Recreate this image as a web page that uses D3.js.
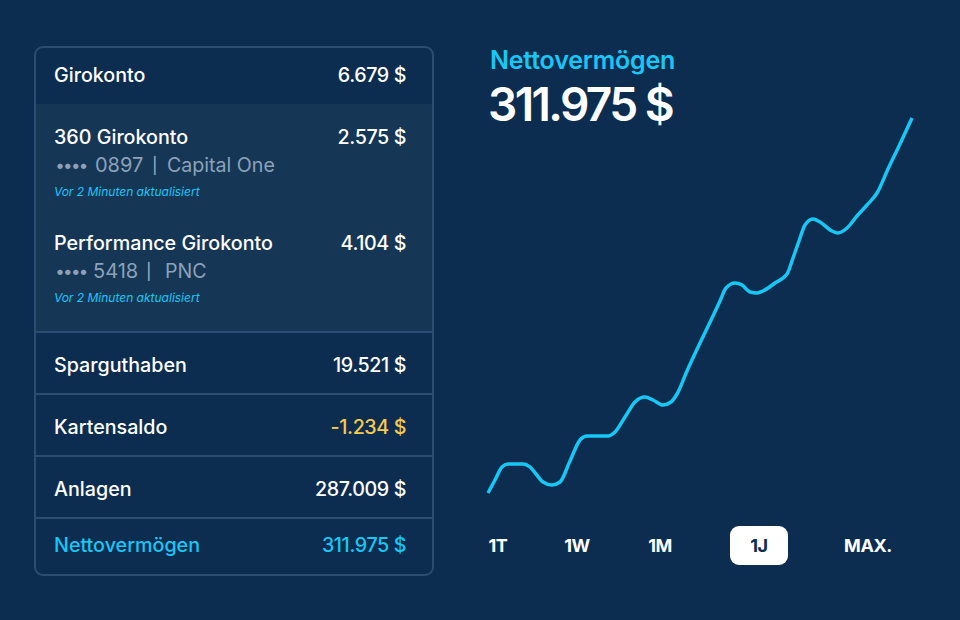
<!DOCTYPE html>
<html>
<head>
<meta charset="utf-8">
<script src="https://cdn.jsdelivr.net/npm/d3@7"></script>
<style>
  html, body { margin: 0; padding: 0; background: #0c2d50; }
  svg { display: block; }
  text { font-family: Inter, "Noto Sans", sans-serif; }
</style>
</head>
<body>
<svg width="960" height="620"></svg>
<script>
// account rows
const rowLabels = ["Girokonto", "Sparguthaben", "Kartensaldo", "Anlagen", "Nettovermögen"];
const rowValues = ["6.679 $", "19.521 $", "-1.234 $", "287.009 $", "311.975 $"];
const subLabels = ["360 Girokonto", "Performance Girokonto"];
const subValues = ["2.575 $", "4.104 $"];
const subNumbers = ["0897", "5418"];
const subBanks = ["Capital One", "PNC"];
const updatedLabel = "Vor 2 Minuten aktualisiert";

// chart (arbitrary units, no axis in the reference)
const lineX = [0, 7, 14, 20, 35, 42, 48, 55, 64, 72, 82, 92, 99, 120, 127, 137, 147, 157, 165, 175, 183, 189, 199, 212, 225, 232, 238, 247, 254, 262, 269, 275, 287, 299, 305, 311, 317, 325, 332, 344, 350, 359, 369, 379, 389, 400, 412, 424];
const lineY = [0, 13, 26, 29, 29, 26, 19, 11, 8, 11, 32, 53, 57, 57, 61, 76, 91, 96, 93, 88, 91, 99, 122, 150, 177, 192, 205, 210, 208, 201, 200, 202, 210, 219, 235, 252, 268, 274, 271, 262, 260, 265, 277, 288, 300, 324, 349, 375];
const rangeLabels = ["1T", "1W", "1M", "1J", "MAX."];
const activeRange = "1J";
const headline = "Nettovermögen";
const headlineValue = "311.975 $";

const cyan = "#17c8f6", white = "#ffffff", yellow = "#f6ca4f", grey = "#8ba2ba";
const line = "#2b4d72", panelLight = "#163656", bg = "#0c2d50";

const svg = d3.select("svg");

// panel
svg.append("clipPath").attr("id", "panel")
  .append("rect").attr("x", 35).attr("y", 47).attr("width", 398).attr("height", 528).attr("rx", 8);
const panel = svg.append("g").attr("clip-path", "url(#panel)");
panel.append("rect").attr("x", 35).attr("y", 104).attr("width", 398).attr("height", 228).attr("fill", panelLight);
panel.selectAll("line").data([332, 394, 456, 518]).enter().append("line")
  .attr("x1", 35).attr("x2", 433).attr("y1", d => d).attr("y2", d => d)
  .attr("stroke", line).attr("stroke-width", 2);
svg.append("rect").attr("x", 35).attr("y", 47).attr("width", 398).attr("height", 528).attr("rx", 8)
  .attr("fill", "none").attr("stroke", line).attr("stroke-width", 2);

const rowY = [75, 365, 427, 489, 545];
function label(x, y, txt, size, color, anchor, weight, spacing) {
  return svg.append("text").attr("x", x).attr("y", y).attr("dy", "0.35em")
    .attr("text-anchor", anchor || "start")
    .attr("font-size", size).attr("font-weight", weight || 500)
    .attr("letter-spacing", spacing || 0)
    .attr("fill", color).text(txt);
}

rowLabels.forEach((t, i) => {
  const c = i === 4 ? cyan : white;
  label(54, rowY[i], t, 19.7, c);
  label(406, rowY[i], rowValues[i], 19.7, i === 2 ? yellow : c, "end", 500, -0.4);
});

const subY = [137, 243];
subLabels.forEach((t, i) => {
  const y = subY[i];
  label(54, y, t, 19.7, white);
  label(406, y, subValues[i], 19.7, white, "end", 500, -0.4);
  label(56, y + 28, "••••", 17, grey, "start", 700, -0.2);
  label(i === 0 ? 95 : 93, y + 28, subNumbers[i], 20, grey, "start", 400);
  label(i === 0 ? 152 : 146, y + 28, "|", 16, grey, "start", 500);
  label(i === 0 ? 167 : 165, y + 28, subBanks[i], 19.6, grey, "start", 400);
  label(54, y + 55, updatedLabel, 12, cyan, "start", 400).attr("font-style", "italic");
});

// header
label(490, 60, headline, 25, cyan, "start", 600, -0.2);
label(488, 105, headlineValue, 46, white, "start", 600, -2.6);

// line
const x = d3.scaleLinear().domain([0, 424]).range([488, 912]);
const y = d3.scaleLinear().domain([0, 375]).range([493, 118]);
const path = d3.line()
  .x(i => x(lineX[i]))
  .y(i => y(lineY[i]))
  .curve(d3.curveMonotoneX);
svg.append("path")
  .attr("d", path(d3.range(lineX.length)))
  .attr("fill", "none").attr("stroke", cyan).attr("stroke-width", 3.5)
  .attr("stroke-linejoin", "round");

// range selector
const rangeX = [498, 577, 660, 759, 868];
svg.append("rect").attr("x", 730).attr("y", 526).attr("width", 58).attr("height", 39).attr("rx", 9).attr("fill", white);
rangeLabels.forEach((t, i) => {
  label(rangeX[i], 546, t, 18, t === activeRange ? bg : white, "middle", 700, -0.4);
});
</script>
</body>
</html>
